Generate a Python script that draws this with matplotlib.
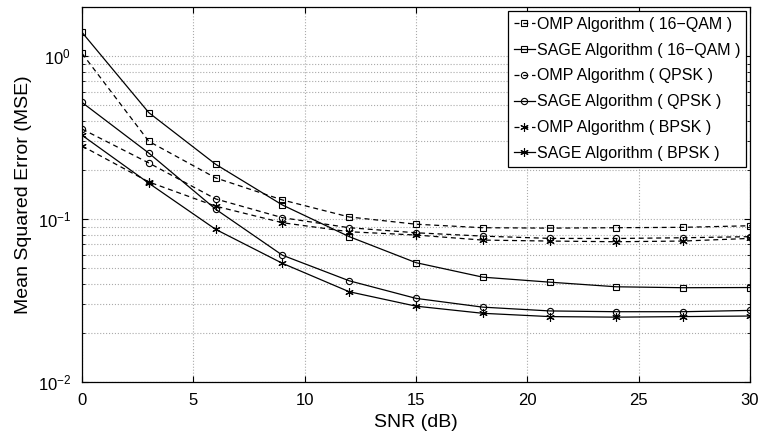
import matplotlib
matplotlib.use("Agg")
import matplotlib.pyplot as plt
from matplotlib.ticker import LogLocator, NullFormatter

plt.rcParams['font.family'] = ['Liberation Sans', 'DejaVu Sans']
plt.rcParams['mathtext.fontset'] = 'custom'
plt.rcParams['mathtext.rm'] = 'Liberation Sans'

snr = [0, 3, 6, 9, 12, 15, 18, 21, 24, 27, 30]
omp_16qam = [1.04, 0.30, 0.179, 0.131, 0.103, 0.093, 0.0885, 0.088, 0.0885, 0.089, 0.091]
sage_16qam = [1.40, 0.45, 0.217, 0.122, 0.078, 0.054, 0.044, 0.041, 0.0384, 0.0379, 0.038]
omp_qpsk = [0.357, 0.221, 0.133, 0.102, 0.0885, 0.0824, 0.0786, 0.0761, 0.076, 0.0768, 0.078]
sage_qpsk = [0.52, 0.254, 0.115, 0.060, 0.0418, 0.0326, 0.0288, 0.0273, 0.027, 0.027, 0.0275]
omp_bpsk = [0.281, 0.169, 0.120, 0.095, 0.0836, 0.0798, 0.0743, 0.0733, 0.0726, 0.0733, 0.0761]
sage_bpsk = [0.327, 0.166, 0.0865, 0.0535, 0.0358, 0.0292, 0.0264, 0.0252, 0.025, 0.0252, 0.0254]

labels = ['OMP Algorithm ( 16\u2212QAM )', 'SAGE Algorithm ( 16\u2212QAM )',
          'OMP Algorithm ( QPSK )', 'SAGE Algorithm ( QPSK )',
          'OMP Algorithm ( BPSK )', 'SAGE Algorithm ( BPSK )']

fig = plt.figure(figsize=(7.63, 4.45), dpi=100)
ax = fig.add_axes([0.1075, 0.1416, 0.8755, 0.8424])

series = [omp_16qam, sage_16qam, omp_qpsk, sage_qpsk, omp_bpsk, sage_bpsk]
markers = ['s', 's', 'o', 'o', (6, 2, 0), (6, 2, 0)]
styles = ['--', '-', '--', '-', '--', '-']
for s, m, ls, lab in zip(series, markers, styles, labels):
    ax.semilogy(snr, s, linestyle=ls, marker=m, color='black', linewidth=0.9,
                markersize=4.5 if m in ('s', 'o') else 6, markerfacecolor='none',
                markeredgewidth=0.8, dashes=(4, 3) if ls == '--' else (None, None), label=lab)

ax.set_xlim(0, 30)
ax.set_ylim(1e-2, 2.0)
ax.set_xticks([0, 5, 10, 15, 20, 25, 30])
ax.yaxis.set_major_locator(LogLocator(base=10, numticks=10))
ax.yaxis.set_minor_locator(LogLocator(base=10, subs=range(2, 10), numticks=20))
ax.yaxis.set_minor_formatter(NullFormatter())
ax.grid(True, which='major', linestyle=':', color='#aaaaaa', linewidth=0.8)
ax.grid(True, which='minor', axis='y', linestyle=':', color='#aaaaaa', linewidth=0.8)
ax.tick_params(direction='in', which='both', top=True, right=True, labelsize=12, pad=8)
ax.tick_params(which='minor', length=2)
ax.tick_params(which='major', length=4)
for sp in ax.spines.values():
    sp.set_linewidth(0.9)

ax.set_xlabel('SNR (dB)', fontsize=14)
ax.set_ylabel('Mean Squared Error (MSE)', fontsize=14)

leg = ax.legend(loc='upper right', fontsize=11.5, frameon=True, fancybox=False,
                edgecolor='black', framealpha=1, handlelength=1.3, handletextpad=0.15,
                borderpad=0.35, labelspacing=0.68, borderaxespad=0.25)
leg.get_frame().set_linewidth(0.9)

fig.savefig('out.png', dpi=100)
